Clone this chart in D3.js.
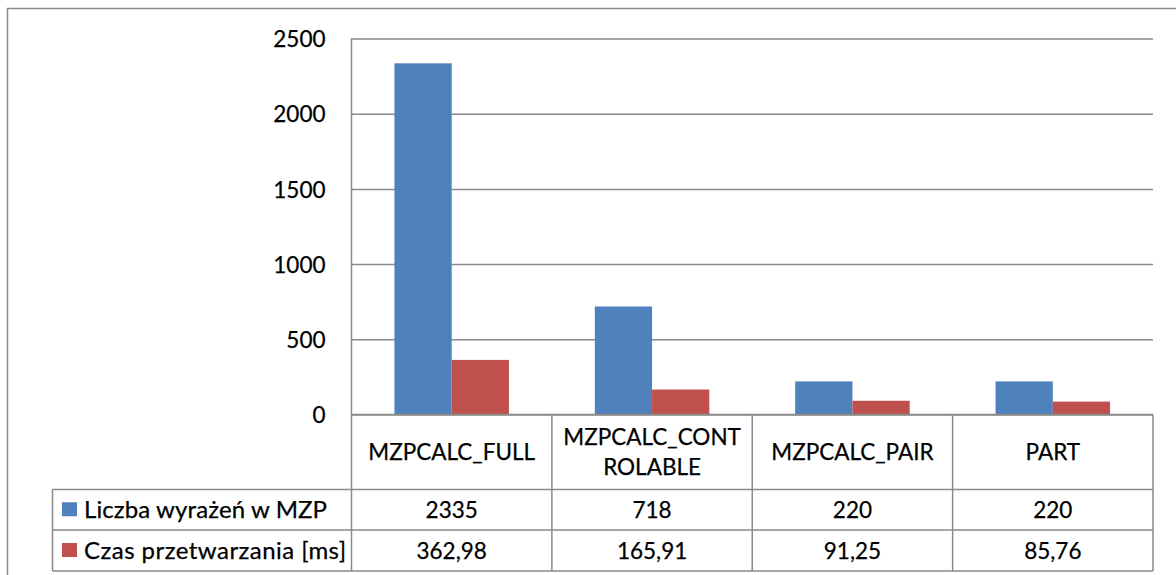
<!DOCTYPE html>
<html>
<head>
<meta charset="utf-8">
<script src="https://cdn.jsdelivr.net/npm/d3@7"></script>
<style>
html,body{margin:0;padding:0;background:#fff;}
svg{display:block;}
text{font-family:Lato,"Open Sans",sans-serif;fill:#000;stroke:#000;stroke-width:0.25px;}
</style>
</head>
<body>
<svg id="chart" width="1176" height="575"></svg>
<script>
const categories = ["MZPCALC_FULL", "MZPCALC_CONTROLABLE", "MZPCALC_PAIR", "PART"];
const categoryLines = [["MZPCALC_FULL"], ["MZPCALC_CONT", "ROLABLE"], ["MZPCALC_PAIR"], ["PART"]];
const seriesNames = ["Liczba wyrażeń w MZP", "Czas przetwarzania [ms]"];
const liczba = [2335, 718, 220, 220];
const czas = [362.98, 165.91, 91.25, 85.76];
const czasLabels = ["362,98", "165,91", "91,25", "85,76"];
const liczbaLabels = ["2335", "718", "220", "220"];
const yTicks = [0, 500, 1000, 1500, 2000, 2500];
const colors = ["#4F81BD", "#C0504D"];

const series = [liczba, czas];
const seriesLabels = [liczbaLabels, czasLabels];

const svg = d3.select("#chart");
const gridColor = "#8a8a8a";
const fs = 22.5;

const plot = {left: 351.5, right: 1153, top: 38.5, bottom: 414.5};
const tableLeft = 52.5;
const rowY = [414.5, 489.5, 530, 571];

// outer border
svg.append("path")
  .attr("d", `M7.5,580 L7.5,8.5 L1180,8.5`)
  .attr("fill", "none").attr("stroke", gridColor).attr("stroke-width", 1.5);

const x = d3.scaleBand().domain(categories).range([plot.left, plot.right]).paddingInner(0).paddingOuter(0);
const xs = d3.scaleBand().domain([0, 1]).range([0, x.bandwidth()]).paddingInner(0).paddingOuter(0.75);
const y = d3.scaleLinear().domain([0, 2500]).range([plot.bottom, plot.top]);

// gridlines
const yAxis = d3.axisLeft(y).tickValues(yTicks).tickSize(-(plot.right - plot.left)).tickFormat(d => d).tickPadding(26);
const ga = svg.append("g").attr("transform", `translate(${plot.left},0)`).call(yAxis);
ga.select(".domain").remove();
ga.selectAll(".tick line").attr("stroke", gridColor).attr("stroke-width", 1.5);
ga.selectAll(".tick text").attr("font-size", fs).attr("font-family", "Lato").attr("fill", "#000").attr("dy", "0.36em");

// bars
series.forEach((vals, si) => {
  svg.append("g").selectAll("rect").data(vals).join("rect")
    .attr("x", (d, i) => x(categories[i]) + xs(si))
    .attr("width", xs.bandwidth())
    .attr("y", d => y(d))
    .attr("height", d => y(0) - y(d))
    .attr("fill", colors[si]);
});

// table lines
const lines = svg.append("g").attr("stroke", gridColor).attr("stroke-width", 1.5);
lines.append("line").attr("x1", plot.left).attr("x2", plot.left).attr("y1", plot.top).attr("y2", rowY[3]);
lines.append("line").attr("x1", plot.left).attr("x2", plot.right).attr("y1", rowY[0]).attr("y2", rowY[0]);
[1, 2, 3].forEach(r => {
  lines.append("line").attr("x1", tableLeft).attr("x2", plot.right).attr("y1", rowY[r]).attr("y2", rowY[r]);
});
lines.append("line").attr("x1", tableLeft).attr("x2", tableLeft).attr("y1", rowY[1]).attr("y2", rowY[3]);
categories.forEach((c, i) => {
  const xr = x(c) + x.bandwidth();
  lines.append("line").attr("x1", xr).attr("x2", xr).attr("y1", rowY[0]).attr("y2", rowY[3]);
});

// category labels
categories.forEach((c, i) => {
  const cx = x(c) + x.bandwidth() / 2;
  const cy = (rowY[0] + rowY[1]) / 2;
  const ls = categoryLines[i];
  const lh = 30;
  ls.forEach((t, k) => {
    svg.append("text").attr("x", cx).attr("y", cy + (k - (ls.length - 1) / 2) * lh)
      .attr("dy", "0.36em").attr("text-anchor", "middle").attr("font-size", fs).text(t);
  });
});

// series rows
seriesNames.forEach((name, si) => {
  const cy = (rowY[si + 1] + rowY[si + 2]) / 2;
  svg.append("rect").attr("x", 62).attr("y", cy - 7.5).attr("width", 15).attr("height", 14).attr("fill", colors[si]);
  svg.append("text").attr("x", 84).attr("y", cy).attr("dy", "0.36em").attr("font-size", 24)
    .attr("letter-spacing", si === 0 ? 0.1 : 0.45).text(name);
  categories.forEach((c, i) => {
    svg.append("text").attr("x", x(c) + x.bandwidth() / 2).attr("y", cy).attr("dy", "0.36em")
      .attr("text-anchor", "middle").attr("font-size", fs).text(seriesLabels[si][i]);
  });
});
</script>
</body>
</html>
